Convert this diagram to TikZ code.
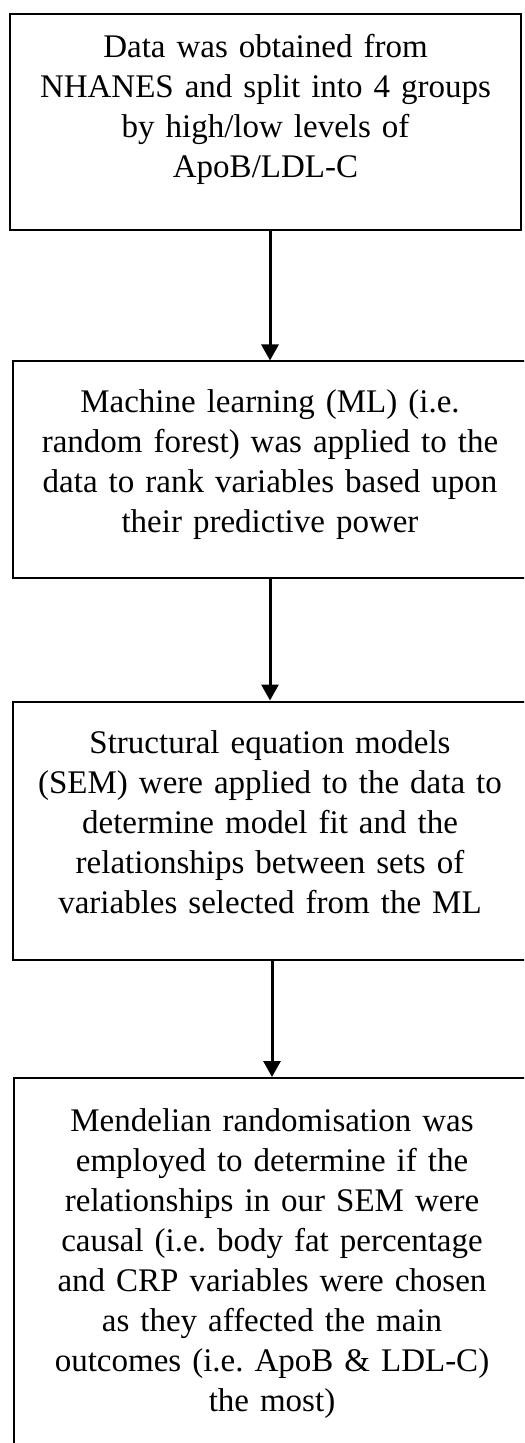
\documentclass[tikz,border=0pt]{standalone}
\usepackage{fontspec}
\setmainfont{Liberation Serif}
\usetikzlibrary{arrows.meta}
\tikzset{
  % node options
  stepbox/.style={rectangle,draw,line width=1pt,inner xsep=4pt,inner ysep=0pt,
    align=center,anchor=north,font=\fontsize{16.5}{20}\selectfont\frenchspacing},
  % path options
  flow/.style={-{Triangle[width=8.5pt,length=8pt]},line width=1.5pt},
}
\begin{document}
\begin{tikzpicture}
  \useasboundingbox (0,0) rectangle (262pt,-721.5pt);
  \clip (0,0) rectangle (262pt,-721.5pt);
  \node[stepbox,text width=247.5pt,text height=22pt,text depth=86pt] (data) at (132.75pt,-6.5pt)
    {Data was obtained from\\NHANES and split into 4 groups\\by high/low levels of\\ApoB/LDL-C};
  \node[stepbox,text width=249pt,text height=25.6pt,text depth=82.6pt] (ml) at (135pt,-180.25pt)
    {Machine learning (ML) (i.e.\\random forest) was applied to the\\data to rank variables based upon\\their predictive power};
  \node[stepbox,text width=249pt,text height=26.2pt,text depth=103pt] (sem) at (135pt,-350.25pt)
    {Structural equation models\\(SEM) were applied to the data to\\determine model fit and the\\relationships between sets of\\variables selected from the ML};
  \node[stepbox,text width=250pt,text height=26.5pt,text depth=165pt] (mr) at (136pt,-538.5pt)
    {Mendelian randomisation was\\employed to determine if the\\relationships in our SEM were\\causal (i.e. body fat percentage\\and CRP variables were chosen\\as they affected the main\\outcomes (i.e. ApoB \& LDL-C)\\the most)};
  \draw[flow] (data.south -| ml.north) -- (ml.north);
  \draw[flow] (ml.south) -- (sem.north);
  \draw[flow] (sem.south -| mr.north) -- (mr.north);
\end{tikzpicture}
\end{document}
